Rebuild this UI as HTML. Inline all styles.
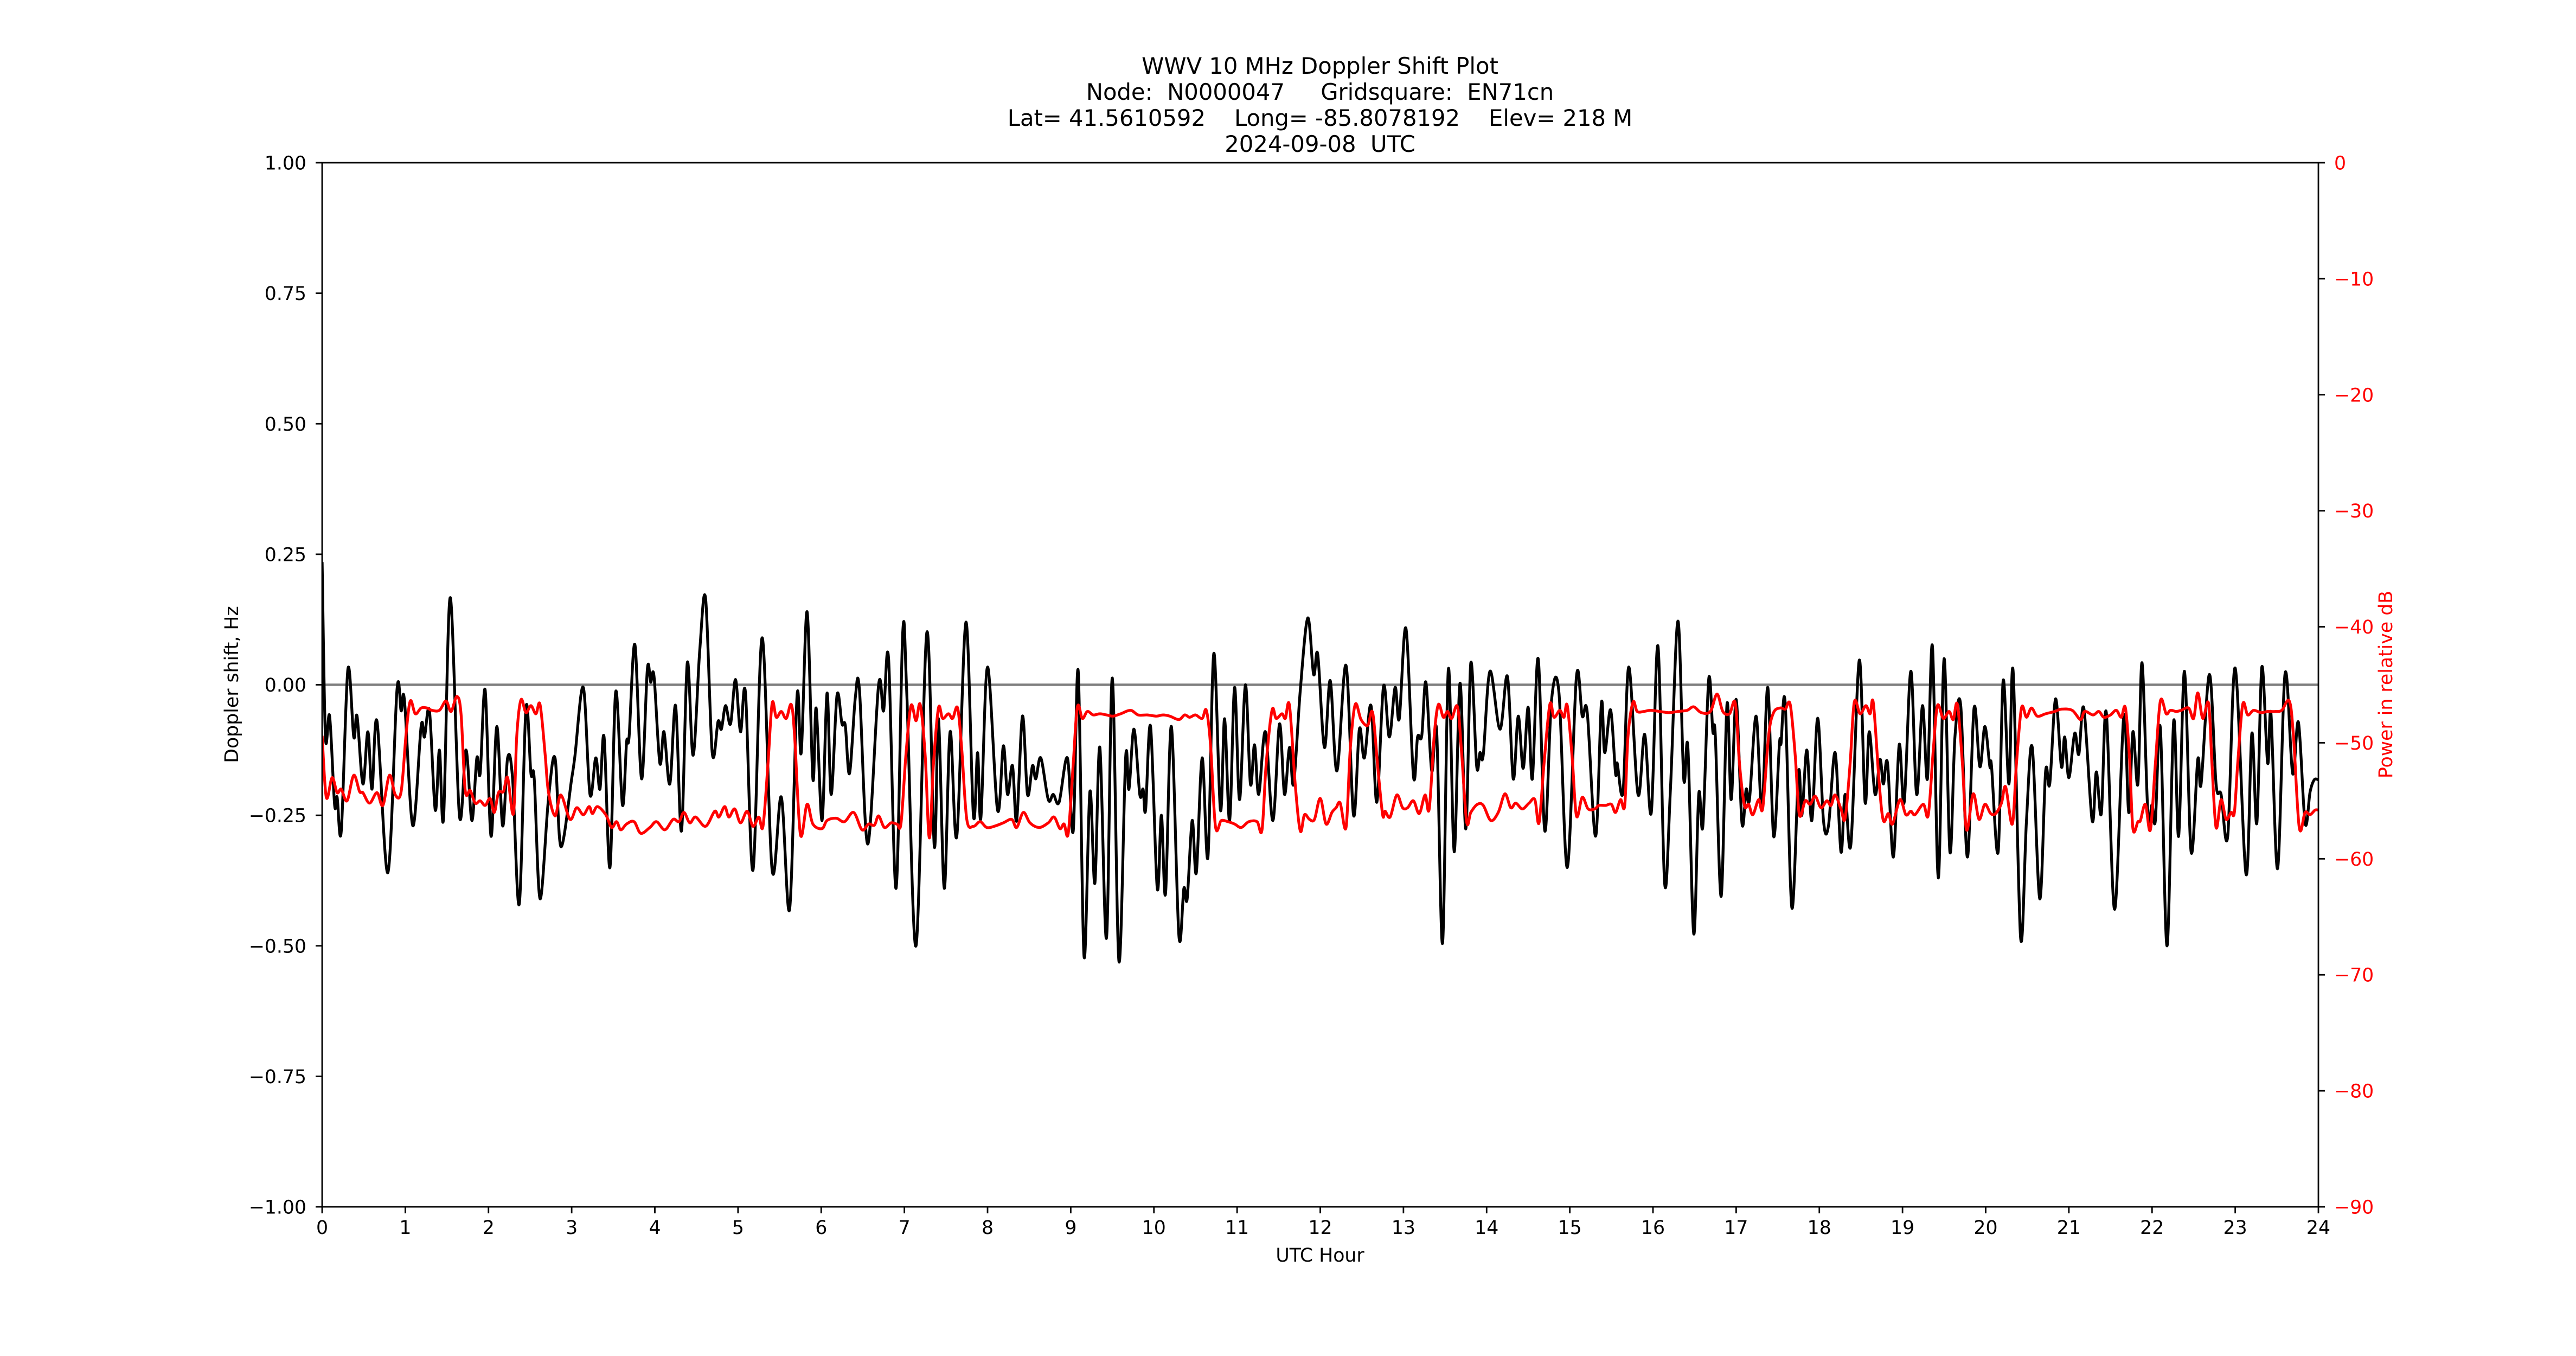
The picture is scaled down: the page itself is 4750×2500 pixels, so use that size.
<!DOCTYPE html>
<html><head><meta charset="utf-8">
<style>
html,body{margin:0;padding:0;background:#fff;}
svg{display:block;font-family:"DejaVu Sans","Liberation Sans",sans-serif;}
</style></head>
<body>
<svg id="chart" width="4750" height="2500" viewBox="0 0 4750 2500" xmlns="http://www.w3.org/2000/svg">
<rect x="0" y="0" width="4750" height="2500" fill="#fff"/>
<g font-size="41.7" text-anchor="middle" fill="#000">
<text x="2434" y="136">WWV 10 MHz Doppler Shift Plot</text>
<text x="2434" y="184" xml:space="preserve">Node:  N0000047     Gridsquare:  EN71cn</text>
<text x="2434" y="232" xml:space="preserve">Lat= 41.5610592    Long= -85.8078192    Elev= 218 M</text>
<text x="2434" y="280" xml:space="preserve">2024-09-08  UTC</text>
</g>
<g id="plot"></g>
<g id="axes"></g>
<text x="428" y="1262" transform="rotate(-90 428 1262)" font-size="34.7" text-anchor="middle" dominant-baseline="central">Doppler shift, Hz</text>
<text x="4400" y="1262" transform="rotate(-90 4400 1262)" font-size="34.7" text-anchor="middle" dominant-baseline="central" fill="#ff0000">Power in relative dB</text>
<text x="2434" y="2326" font-size="34.7" text-anchor="middle">UTC Hour</text>
</svg>
<script>
const xTicks = [0,1,2,3,4,5,6,7,8,9,10,11,12,13,14,15,16,17,18,19,20,21,22,23,24];
const yTicks = [1.00,0.75,0.50,0.25,0.00,-0.25,-0.50,-0.75,-1.00];
const yTickLabels = ["1.00","0.75","0.50","0.25","0.00","\u22120.25","\u22120.50","\u22120.75","\u22121.00"];
const y2Ticks = [0,-10,-20,-30,-40,-50,-60,-70,-80,-90];
const y2TickLabels = ["0","\u221210","\u221220","\u221230","\u221240","\u221250","\u221260","\u221270","\u221280","\u221290"];

const dopplerHours = [0.00,0.04,0.09,0.15,0.18,0.23,0.31,0.38,0.42,0.49,0.55,0.60,0.66,0.79,0.90,0.95,0.99,1.09,1.19,1.23,1.29,1.36,1.41,1.46,1.54,1.65,1.73,1.80,1.86,1.90,1.96,2.03,2.10,2.17,2.23,2.29,2.37,2.45,2.51,2.55,2.62,2.72,2.80,2.87,3.00,3.04,3.14,3.22,3.29,3.34,3.39,3.46,3.53,3.61,3.66,3.69,3.76,3.84,3.91,3.95,3.99,4.06,4.11,4.18,4.25,4.32,4.39,4.46,4.54,4.61,4.69,4.76,4.80,4.85,4.91,4.97,5.03,5.09,5.18,5.29,5.41,5.52,5.62,5.71,5.76,5.83,5.90,5.94,6.01,6.07,6.12,6.19,6.25,6.29,6.34,6.41,6.46,6.56,6.69,6.75,6.81,6.90,6.98,7.03,7.14,7.27,7.36,7.41,7.48,7.55,7.63,7.74,7.83,7.88,7.92,8.00,8.12,
8.19,8.24,8.30,8.35,8.42,8.48,8.54,8.58,8.64,8.73,8.79,8.86,8.96,9.03,9.09,9.16,9.23,9.29,9.35,9.43,9.50,9.58,9.66,9.70,9.76,9.83,9.87,9.90,9.96,10.04,10.09,10.14,10.21,10.30,10.36,10.40,10.46,10.51,10.58,10.65,10.72,10.80,10.85,10.91,10.97,11.03,11.10,11.16,11.21,11.26,11.34,11.43,11.51,11.57,11.63,11.68,11.76,11.85,11.92,11.97,12.05,12.12,12.20,12.31,12.40,12.47,12.53,12.61,12.68,12.76,12.83,12.90,12.95,13.03,13.12,13.17,13.22,13.27,13.34,13.40,13.47,13.54,13.61,13.68,13.75,13.81,13.88,13.92,13.96,14.04,14.16,14.25,14.32,14.38,14.44,14.50,14.55,14.62,14.70,14.78,14.87,14.97,15.08,15.15,15.21,15.31,15.38,15.42,15.49,15.55,15.57,15.64,15.71,15.82,15.90,15.98,16.06,16.14,16.21,16.30,16.37,16.42,
16.49,16.55,16.60,16.67,16.72,16.75,16.82,16.89,16.94,17.00,17.07,17.12,17.16,17.24,17.31,17.38,17.45,17.52,17.54,17.59,17.67,17.75,17.79,17.85,17.91,17.98,18.05,18.11,18.19,18.26,18.31,18.38,18.48,18.55,18.60,18.67,18.73,18.77,18.82,18.89,18.96,19.02,19.10,19.17,19.24,19.30,19.36,19.43,19.50,19.57,19.63,19.70,19.78,19.86,19.93,19.99,20.05,20.07,20.15,20.21,20.28,20.33,20.42,20.49,20.56,20.65,20.72,20.77,20.84,20.91,20.95,21.00,21.07,21.12,21.18,21.28,21.33,21.39,21.45,21.55,21.66,21.72,21.77,21.83,21.88,21.95,22.00,22.04,22.10,22.18,22.26,22.32,22.39,22.47,22.55,22.59,22.69,22.77,22.83,22.91,23.00,23.13,23.20,23.26,23.32,23.39,23.43,23.51,23.60,23.69,23.76,23.84,23.90,23.95,24.00];
const dopplerHz = [0.235,-0.10,-0.06,-0.23,-0.215,-0.28,0.03,-0.10,-0.06,-0.19,-0.09,-0.20,-0.07,-0.36,-0.01,-0.05,-0.03,-0.27,-0.08,-0.10,-0.05,-0.24,-0.125,-0.255,0.167,-0.25,-0.125,-0.26,-0.14,-0.17,-0.01,-0.29,-0.08,-0.27,-0.14,-0.18,-0.42,-0.045,-0.17,-0.18,-0.41,-0.22,-0.14,-0.31,-0.18,-0.135,-0.005,-0.21,-0.14,-0.20,-0.10,-0.35,-0.013,-0.23,-0.11,-0.10,0.077,-0.18,0.03,0.005,0.016,-0.15,-0.09,-0.19,-0.04,-0.28,0.042,-0.135,0.066,0.165,-0.13,-0.07,-0.085,-0.04,-0.075,0.01,-0.09,-0.016,-0.355,0.09,-0.355,-0.215,-0.43,-0.02,-0.13,0.14,-0.18,-0.045,-0.26,-0.016,-0.21,-0.02,-0.075,-0.078,-0.17,-0.025,-0.01,-0.305,0.0,-0.05,0.05,-0.39,0.10,-0.02,-0.50,0.10,-0.31,-0.065,-0.39,-0.09,-0.29,0.12,-0.25,-0.13,-0.255,0.034,-0.24,
-0.117,-0.21,-0.155,-0.26,-0.06,-0.21,-0.155,-0.18,-0.14,-0.22,-0.21,-0.225,-0.14,-0.28,0.026,-0.52,-0.205,-0.38,-0.12,-0.485,0.013,-0.53,-0.14,-0.20,-0.085,-0.21,-0.20,-0.24,-0.08,-0.39,-0.25,-0.40,-0.08,-0.48,-0.39,-0.41,-0.26,-0.36,-0.14,-0.33,0.06,-0.24,-0.065,-0.26,-0.005,-0.22,0.0,-0.19,-0.115,-0.21,-0.09,-0.26,-0.075,-0.21,-0.12,-0.19,-0.01,0.128,0.02,0.058,-0.12,0.008,-0.165,0.037,-0.25,-0.085,-0.14,-0.04,-0.225,-0.003,-0.10,-0.005,-0.065,0.108,-0.175,-0.10,-0.098,0.005,-0.165,-0.09,-0.495,0.03,-0.32,0.003,-0.276,0.042,-0.155,-0.13,-0.134,0.026,-0.085,0.016,-0.18,-0.06,-0.16,-0.043,-0.18,0.05,-0.28,-0.03,-0.016,-0.35,0.016,-0.06,-0.053,-0.29,-0.035,-0.13,-0.048,-0.17,-0.15,-0.205,0.034,-0.21,-0.095,-0.245,0.074,-0.38,-0.20,0.122,-0.18,-0.12,
-0.477,-0.21,-0.27,0.011,-0.09,-0.098,-0.405,-0.037,-0.22,-0.028,-0.265,-0.20,-0.22,-0.06,-0.24,-0.005,-0.29,-0.114,-0.112,-0.036,-0.427,-0.167,-0.25,-0.125,-0.26,-0.064,-0.26,-0.27,-0.13,-0.32,-0.21,-0.305,0.047,-0.225,-0.09,-0.21,-0.143,-0.19,-0.15,-0.33,-0.115,-0.225,0.026,-0.21,-0.04,-0.18,0.074,-0.37,0.05,-0.32,-0.10,-0.04,-0.33,-0.045,-0.157,-0.08,-0.157,-0.155,-0.32,0.008,-0.19,0.026,-0.485,-0.26,-0.12,-0.41,-0.167,-0.19,-0.027,-0.157,-0.10,-0.178,-0.093,-0.133,-0.045,-0.26,-0.167,-0.247,-0.053,-0.43,-0.06,-0.245,-0.09,-0.19,0.042,-0.247,-0.23,-0.26,-0.083,-0.50,-0.07,-0.29,0.026,-0.32,-0.143,-0.19,0.02,-0.19,-0.21,-0.29,0.032,-0.363,-0.093,-0.265,0.034,-0.15,-0.056,-0.352,0.022,-0.17,-0.072,-0.265,-0.205,-0.182,-0.182];

const powerHours = [0.00,0.05,0.12,0.18,0.23,0.30,0.38,0.45,0.49,0.57,0.66,0.73,0.81,0.88,0.95,1.01,1.06,1.12,1.19,1.26,1.32,1.41,1.49,1.55,1.62,1.67,1.72,1.78,1.84,1.90,1.96,2.02,2.07,2.12,2.18,2.23,2.30,2.34,2.39,2.45,2.51,2.57,2.62,2.68,2.72,2.80,2.87,2.98,3.06,3.14,3.21,3.25,3.31,3.41,3.48,3.54,3.59,3.66,3.75,3.83,3.94,4.02,4.12,4.22,4.29,4.35,4.42,4.49,4.61,4.72,4.77,4.84,4.89,4.96,5.03,5.11,5.18,5.25,5.30,5.36,5.41,5.46,5.52,5.58,5.64,5.68,5.75,5.83,5.90,6.01,6.07,6.18,6.28,6.39,6.49,6.57,6.64,6.69,6.76,6.84,6.91,6.96,7.02,7.08,7.14,7.19,7.25,7.30,7.35,7.41,7.46,7.53,7.58,7.64,7.69,7.75,7.83,7.91,7.99,8.08,
8.19,8.29,8.35,8.43,8.51,8.62,8.73,8.80,8.87,8.92,8.97,9.03,9.08,9.14,9.20,9.27,9.35,9.43,9.51,9.60,9.72,9.81,9.92,10.03,10.11,10.19,10.30,10.37,10.43,10.50,10.58,10.63,10.68,10.74,10.81,10.89,10.97,11.05,11.14,11.24,11.30,11.35,11.42,11.47,11.54,11.58,11.63,11.70,11.76,11.81,11.87,11.93,12.00,12.07,12.14,12.19,12.24,12.31,12.36,12.42,12.49,12.57,12.63,12.69,12.75,12.78,12.84,12.92,12.99,13.05,13.12,13.19,13.26,13.31,13.37,13.42,13.48,13.53,13.58,13.65,13.70,13.76,13.81,13.89,13.96,14.05,14.14,14.22,14.29,14.35,14.43,14.51,14.58,14.63,14.69,14.76,14.81,14.88,14.93,14.97,15.03,15.08,15.15,15.22,15.30,15.35,15.43,15.50,15.55,15.61,15.66,15.70,15.76,15.81,15.89,15.97,16.08,16.19,16.30,16.41,16.49,16.58,
16.69,16.77,16.84,16.92,16.99,17.04,17.10,17.15,17.20,17.27,17.32,17.39,17.45,17.53,17.59,17.65,17.71,17.76,17.83,17.89,17.95,18.02,18.09,18.14,18.19,18.26,18.31,18.37,18.42,18.49,18.56,18.61,18.65,18.72,18.77,18.83,18.88,18.97,19.04,19.10,19.15,19.25,19.31,19.37,19.42,19.49,19.56,19.61,19.66,19.72,19.77,19.85,19.92,19.99,20.06,20.12,20.19,20.24,20.32,20.37,20.43,20.49,20.55,20.62,20.72,20.83,20.91,21.04,21.14,21.19,21.29,21.36,21.42,21.50,21.57,21.63,21.68,21.73,21.77,21.83,21.86,21.92,21.98,22.04,22.10,22.17,22.22,22.29,22.35,22.44,22.50,22.55,22.61,22.68,22.72,22.77,22.83,22.89,22.95,22.99,23.03,23.09,23.15,23.22,23.31,23.39,23.48,23.56,23.65,23.70,23.77,23.84,23.90,23.96,24.00];
const powerDb = [-49.4,-54.7,-53,-54.3,-54,-55,-52.8,-54.2,-54.3,-55.2,-54.3,-55.4,-52.8,-54.5,-54.2,-49.2,-46.4,-47.5,-47,-47,-47.2,-47.2,-46.4,-47.3,-46,-47.5,-54.1,-54.1,-55.2,-55,-55.4,-54.8,-56,-54.3,-54.2,-53,-56.1,-49.4,-46.3,-47.4,-46.8,-47.5,-46.7,-50.9,-54.2,-56.3,-54.5,-56.6,-55.6,-56.2,-55.5,-56.1,-55.5,-56.2,-57.3,-56.8,-57.5,-57,-56.8,-57.8,-57.3,-56.8,-57.5,-56.6,-56.8,-56,-56.9,-56.4,-57.2,-55.9,-56.4,-55.5,-56.4,-55.7,-56.9,-55.9,-57.2,-56.4,-57.2,-51.8,-46.6,-47.8,-47.3,-47.9,-46.7,-49.4,-57.9,-55.3,-57,-57.4,-56.7,-56.5,-56.8,-56,-57.5,-57,-57.1,-56.3,-57.3,-56.9,-57,-56.9,-50.9,-46.8,-48.1,-46.7,-51.1,-58.2,-51.8,-47,-47.9,-47.5,-47.9,-47,-50.6,-56.6,-57.2,-56.8,-57.3,-57.2,
-56.9,-56.6,-57.3,-56,-56.9,-57.3,-56.9,-56.4,-57.4,-57,-57.8,-51.8,-46.9,-47.9,-47.3,-47.6,-47.5,-47.6,-47.7,-47.5,-47.2,-47.6,-47.6,-47.7,-47.6,-47.7,-48,-47.6,-47.8,-47.6,-47.9,-47.2,-50.1,-57.2,-56.7,-56.8,-57,-57.3,-56.8,-56.8,-57.5,-51.8,-47.2,-47.9,-47.5,-47.9,-46.8,-53.7,-57.6,-56.2,-56.6,-56.6,-54.8,-57,-56,-55.6,-55.2,-57.3,-50.6,-46.7,-48,-48.5,-47.4,-52,-56.2,-55.9,-56.4,-54.5,-55.6,-55.6,-55,-56.1,-54.5,-55.7,-49.4,-46.7,-47.8,-47.3,-47.9,-46.9,-50.9,-56.8,-56,-55.3,-55.4,-56.7,-56,-54.4,-55.6,-55.2,-55.7,-55.2,-54.9,-56.9,-51.8,-46.7,-47.8,-47.2,-47.8,-46.8,-51.4,-56.3,-54.7,-55.7,-55.7,-55.4,-55.4,-55.3,-56,-54.9,-55.4,-49.4,-46.5,-47.3,-47.3,-47.2,-47.3,-47.4,-47.3,-47.2,-46.9,-47.4,
-47.3,-45.8,-47.3,-47.5,-46.6,-51.8,-55.4,-55.3,-56.2,-54.9,-55.6,-49.4,-47.4,-47,-47.1,-46.7,-51.1,-56.2,-55,-55.3,-54.6,-55.6,-55,-55.4,-54.5,-55.7,-56.5,-51.8,-46.5,-47.5,-46.8,-47.5,-46.6,-53.5,-56.7,-56.1,-57,-54.9,-56.2,-55.9,-56.2,-55.3,-56.2,-50.6,-46.8,-47.9,-47.3,-48,-46.7,-51.8,-57.5,-54.4,-56.6,-55.3,-56.1,-56.1,-55.2,-53.8,-57,-51.8,-47,-47.8,-47,-47.7,-47.5,-47.3,-47.1,-47.2,-48,-47.3,-47.6,-47.3,-47.8,-47.6,-47.2,-47.8,-47,-51.4,-57.4,-56.8,-56.7,-55.3,-57.5,-51.8,-46.4,-47.5,-47.2,-47.3,-47.2,-47,-47.9,-45.7,-47.9,-46.6,-51.8,-57.3,-54.9,-56.6,-56,-56,-51.8,-46.7,-47.6,-47.2,-47.4,-47.3,-47.3,-47.2,-46.4,-49.4,-57.3,-56,-56.2,-55.8,-55.8];

const NS = "http://www.w3.org/2000/svg";
const L = 594, R = 4275, T = 300, B = 2225;
function xs(h){ return L + (h - 0) / 24 * (R - L); }
function ys(v){ return T + (1 - v) / 2 * (B - T); }
function y2s(d){ return T + (0 - d) / 90 * (B - T); }

function smoothPath(px, py){
  let d = "M" + px[0].toFixed(1) + "," + py[0].toFixed(1);
  for (let i = 0; i < px.length - 1; i++) {
    const i0 = Math.max(0, i - 1), i3 = Math.min(px.length - 1, i + 2);
    const c1x = px[i] + (px[i+1] - px[i0]) / 6, c1y = py[i] + (py[i+1] - py[i0]) / 6;
    const c2x = px[i+1] - (px[i3] - px[i]) / 6, c2y = py[i+1] - (py[i3] - py[i]) / 6;
    d += " C" + c1x.toFixed(1) + "," + c1y.toFixed(1) + " " + c2x.toFixed(1) + "," + c2y.toFixed(1) + " " + px[i+1].toFixed(1) + "," + py[i+1].toFixed(1);
  }
  return d;
}

const plot = document.getElementById("plot");
const axes = document.getElementById("axes");

const clip = document.createElementNS(NS, "clipPath");
clip.setAttribute("id", "clipPlot");
const cr = document.createElementNS(NS, "rect");
cr.setAttribute("x", L); cr.setAttribute("y", T); cr.setAttribute("width", R - L); cr.setAttribute("height", B - T);
clip.appendChild(cr);
plot.appendChild(clip);
plot.setAttribute("clip-path", "url(#clipPlot)");

const zl = document.createElementNS(NS, "line");


zl.setAttribute("x1", L); zl.setAttribute("x2", R);
zl.setAttribute("y1", ys(0)); zl.setAttribute("y2", ys(0));
zl.setAttribute("stroke", "#808080"); zl.setAttribute("stroke-width", "4.5");
plot.appendChild(zl);

const dp = document.createElementNS(NS, "path");


dp.setAttribute("d", smoothPath(dopplerHours.map(xs), dopplerHz.map(ys)));
dp.setAttribute("fill", "none"); dp.setAttribute("stroke", "#000"); dp.setAttribute("stroke-width", "5.2");
dp.setAttribute("stroke-linejoin", "round");
plot.appendChild(dp);

const pp = document.createElementNS(NS, "path");


pp.setAttribute("d", smoothPath(powerHours.map(xs), powerDb.map(y2s)));
pp.setAttribute("fill", "none"); pp.setAttribute("stroke", "#ff0000"); pp.setAttribute("stroke-width", "5.2");
pp.setAttribute("stroke-linejoin", "round");
plot.appendChild(pp);

const frame = document.createElementNS(NS, "rect");


frame.setAttribute("x", L); frame.setAttribute("y", T); frame.setAttribute("width", R - L); frame.setAttribute("height", B - T);
frame.setAttribute("fill", "none"); frame.setAttribute("stroke", "#000"); frame.setAttribute("stroke-width", "2.8");
axes.appendChild(frame);

function addLine(x1,y1,x2,y2,name){
  const l = document.createElementNS(NS, "line");
  
  
  l.setAttribute("x1", x1); l.setAttribute("y1", y1); l.setAttribute("x2", x2); l.setAttribute("y2", y2);
  l.setAttribute("stroke", "#000"); l.setAttribute("stroke-width", "2.8");
  axes.appendChild(l);
}
function addText(x,y,str,anchor,color,name){
  const t = document.createElementNS(NS, "text");
  
  
  t.setAttribute("x", x); t.setAttribute("y", y);
  t.setAttribute("font-size", "34.7");
  t.setAttribute("text-anchor", anchor);
  t.setAttribute("fill", color);
  t.textContent = str;
  axes.appendChild(t);
}
xTicks.forEach(function(h){
  addLine(xs(h), B, xs(h), B + 12, "x-tick");
  addText(xs(h), B + 50, String(h), "middle", "#000", "x-tick-label");
});
yTicks.forEach(function(v, i){
  addLine(L - 12, ys(v), L, ys(v), "y-tick");
  addText(L - 29, ys(v) + 12.5, yTickLabels[i], "end", "#000", "y-tick-label");
});
y2Ticks.forEach(function(d, i){
  addLine(R, y2s(d), R + 12, y2s(d), "right-y-tick");
  addText(R + 29, y2s(d) + 12.5, y2TickLabels[i], "start", "#ff0000", "right-y-tick-label");
});
</script>
</body></html>
